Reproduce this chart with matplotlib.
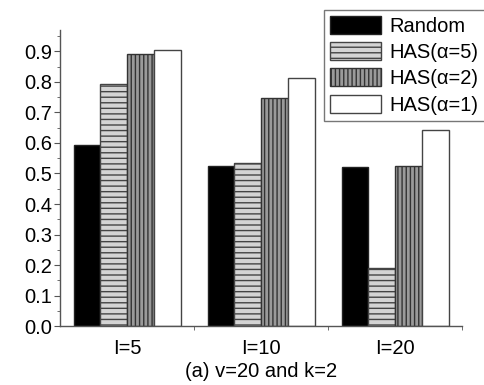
import matplotlib
matplotlib.use("Agg")
import matplotlib.pyplot as plt
import numpy as np
from matplotlib.ticker import MultipleLocator, FixedLocator

plt.rcParams['font.family'] = ['Liberation Sans', 'DejaVu Sans']
plt.rcParams['hatch.linewidth'] = 1.0

categories = ["I=5", "I=10", "I=20"]
series_names = ["Random", "HAS(\u03b1=5)", "HAS(\u03b1=2)", "HAS(\u03b1=1)"]
random_vals = [0.592, 0.524, 0.521]
has5_vals = [0.792, 0.535, 0.189]
has2_vals = [0.890, 0.747, 0.524]
has1_vals = [0.903, 0.814, 0.641]
yticks = [0.0, 0.1, 0.2, 0.3, 0.4, 0.5, 0.6, 0.7, 0.8, 0.9]
caption = "(a) v=20 and k=2"

FS = 14.5

fig = plt.figure(figsize=(4.85, 3.85), dpi=100)
ax = fig.add_axes([0.124, 0.153, 0.829, 0.769])

x = np.arange(1, len(categories) + 1)
w = 0.2
styles = [
    dict(facecolor='black', hatch=None, edgecolor='#222222'),
    dict(facecolor='#d4d4d4', hatch='---', edgecolor='#444444'),
    dict(facecolor='#9a9a9a', hatch='||||', edgecolor='#333333'),
    dict(facecolor='white', hatch=None, edgecolor='#444444'),
]
data = [random_vals, has5_vals, has2_vals, has1_vals]
offsets = [-1.5, -0.5, 0.5, 1.5]
for vals, st, off, name in zip(data, styles, offsets, series_names):
    ax.bar(x + off * w, vals, width=w, label=name, linewidth=1.0, **st)

ax.set_xlim(0.5, 3.5)
ax.set_ylim(0, 0.97)
ax.set_xticks(x)
ax.set_xticklabels(categories, fontsize=FS)
ax.xaxis.set_minor_locator(FixedLocator([1.5, 2.5, 3.5]))
ax.tick_params(axis='x', which='major', length=0, pad=9)
ax.tick_params(axis='x', which='minor', length=3, color='#555555', direction='out')
ax.set_yticks(yticks)
ax.set_yticklabels([f"{v:.1f}" for v in yticks], fontsize=FS)
ax.yaxis.set_minor_locator(MultipleLocator(0.05))
ax.tick_params(axis='y', which='major', length=4, color='#555555', direction='out', pad=1.5)
ax.tick_params(axis='y', which='minor', length=2, color='#555555', direction='out')
for s in ['top', 'right']:
    ax.spines[s].set_visible(False)
for s in ['left', 'bottom']:
    ax.spines[s].set_color('#555555')
    ax.spines[s].set_linewidth(1.0)

ax.set_xlabel(caption, fontsize=FS, labelpad=3)

leg = fig.legend(loc='upper right', bbox_to_anchor=(0.999, 0.975), fontsize=FS,
                 handlelength=2.55, handleheight=1.0, labelspacing=0.32,
                 handletextpad=0.4, borderpad=0.3, borderaxespad=0,
                 fancybox=False, framealpha=1, edgecolor='#777777')
leg.get_frame().set_linewidth(1.0)

fig.savefig("out.png", dpi=100)
